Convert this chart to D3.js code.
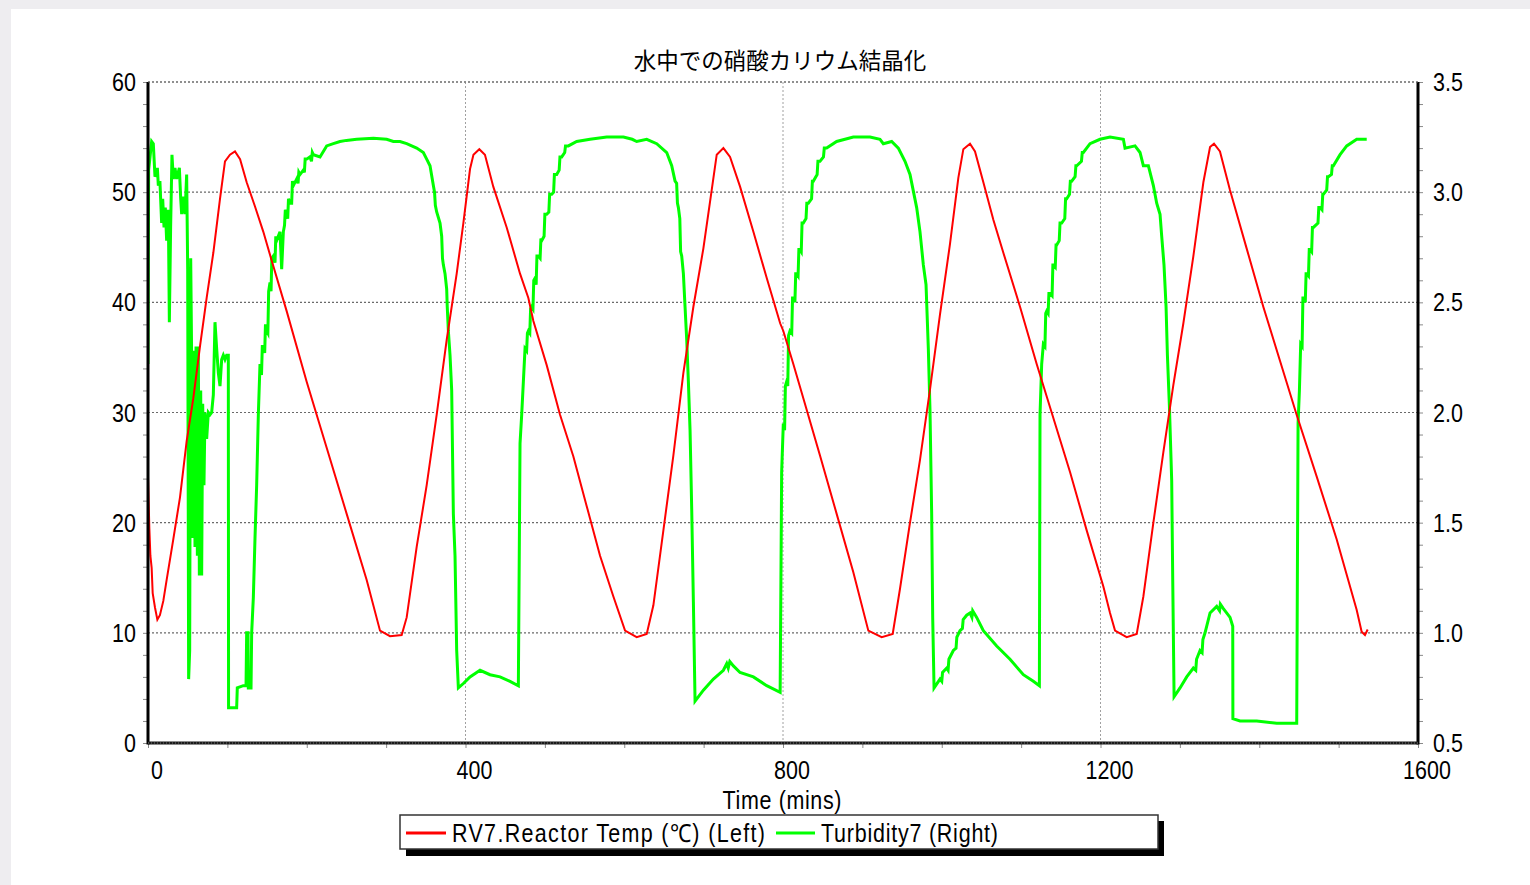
<!DOCTYPE html>
<html><head><meta charset="utf-8">
<script src="https://cdn.jsdelivr.net/npm/d3@7/dist/d3.min.js"></script>
<style>
html,body{margin:0;padding:0;background:#eeedf0;}
svg{display:block;}
</style></head>
<body>
<svg id="chart" width="1530" height="885"></svg>
<script>
// ---- data ----
const titleText = "水中での硝酸カリウム結晶化";
const xLabel = "Time (mins)";
const seriesNames = ["RV7.Reactor Temp (℃) (Left)", "Turbidity7 (Right)"];
const xTicks = [0, 400, 800, 1200, 1600];
const leftTicks = [0, 10, 20, 30, 40, 50, 60];
const rightTicks = [0.5, 1.0, 1.5, 2.0, 2.5, 3.0, 3.5];
const rightTickLabels = ["0.5", "1.0", "1.5", "2.0", "2.5", "3.0", "3.5"];

// [time (mins), reactor temp (°C)]
const reactorTemp = [[0,24.2],[1.7,19.5],[3,17],[4.6,15.9],[5.9,13.6],[8.8,12.3],[11.8,11.2],[15,11.6],[19.3,12.9],[23.5,14.8],[31.9,18.5],[40.3,22.3],[48.7,27.4],[57.1,31.3],[65.5,36.0],[73.9,40.4],[82.3,44.5],[90.7,49.4],[97,52.8],[103.3,53.4],[109.6,53.7],[116,53.0],[124.3,50.9],[134.8,48.7],[145.3,46.4],[155.8,43.8],[174.7,39.2],[199.9,32.8],[225.1,26.8],[250.3,20.8],[275.5,14.8],[292.3,10.2],[304.9,9.7],[319.6,9.8],[325.9,11.4],[338.5,17.8],[351.1,23.4],[363.7,29.8],[376.3,36.6],[388.9,42.6],[397.3,47.2],[405.7,52.1],[410,53.4],[417.4,53.9],[424.5,53.4],[435,50.5],[451.9,46.8],[468.7,42.6],[479.2,40.4],[485.5,38.3],[502.3,34.3],[519.1,29.8],[535.9,26.0],[552.7,21.5],[569.5,17.0],[586.3,13.3],[601,10.2],[615.7,9.6],[628.3,9.9],[636.7,12.5],[649.3,19.3],[661.9,26.1],[674.5,33.6],[687.1,39.6],[699.7,44.9],[710.2,50.2],[716.5,53.4],[724.9,54.0],[733.3,53.2],[745.9,50.5],[762.7,46.4],[779.5,42.2],[796.4,38.1],[800.4,37.4],[813,34.4],[825.6,31.3],[846.6,26.1],[867.6,20.8],[888.6,15.5],[907.5,10.2],[924.3,9.6],[938.2,9.9],[947.4,14.0],[960,20.0],[972.6,25.7],[985.2,32.1],[997.8,38.9],[1010.4,45.3],[1020.9,51.3],[1027.2,53.9],[1035.6,54.4],[1041.9,53.7],[1052.4,50.9],[1065,47.5],[1077.6,44.5],[1098.6,39.6],[1119.6,34.4],[1140.6,29.5],[1161.6,24.6],[1182.6,19.3],[1203.6,14.2],[1212,11.8],[1218.3,10.2],[1233,9.6],[1245.6,9.9],[1254,13.3],[1266.6,20.0],[1279.2,26.4],[1291.8,32.5],[1304.4,38.1],[1317,44.2],[1329.6,50.9],[1338,54.1],[1343,54.4],[1350.5,53.7],[1363.1,50.2],[1384.1,44.9],[1405.1,39.6],[1426.1,34.7],[1447.1,29.8],[1472.3,24.2],[1497.5,18.5],[1522.7,12.1],[1529,10.1],[1533.2,9.8],[1536.6,10.3]];

// [time (mins), turbidity]
const turbidity = [[0,2.22],[0.8,3.10],[4.6,3.23],[6.7,3.22],[8.8,3.07],[11.8,3.11],[13,3.03],[15,3.05],[17.2,2.86],[18.5,2.97],[20.2,2.84],[21.8,2.93],[23.5,2.78],[25.6,2.92],[26.9,2.41],[28.5,2.84],[30.2,3.17],[31.9,3.06],[34,3.11],[36.1,3.06],[39.5,3.11],[41.2,2.97],[42.4,2.90],[44.5,2.98],[46.6,2.90],[48.7,3.08],[50,2.65],[51.2,0.79],[52.5,0.92],[53.8,2.70],[55,2.25],[56.3,1.43],[57.9,2.28],[59.2,1.39],[60.5,2.30],[62.2,1.35],[63.4,2.30],[64.7,1.26],[66.4,2.10],[67.6,1.26],[68.9,2.04],[70.5,1.67],[71.8,2.00],[73.9,1.88],[76,2.00],[78.1,1.99],[80.2,2.00],[82.3,2.08],[84.4,2.41],[86.5,2.29],[88.6,2.18],[90.7,2.12],[92.8,2.24],[94.9,2.26],[97,2.24],[99.1,2.26],[101.2,2.26],[101.5,0.66],[111.7,0.66],[112.5,0.75],[120,0.76],[123.5,0.76],[124.3,1.0],[126,1.0],[126.4,0.75],[129.8,0.75],[130.6,1.0],[132.7,1.16],[134.8,1.43],[136.9,1.67],[139,1.99],[141.1,2.22],[143,2.17],[144,2.30],[145.3,2.30],[147,2.27],[148,2.40],[149.5,2.37],[151,2.36],[152,2.55],[153.7,2.59],[155,2.55],[156,2.70],[157.9,2.71],[160,2.68],[161,2.80],[162,2.78],[166.3,2.82],[168.4,2.65],[170.5,2.82],[172,2.85],[173,2.92],[174.7,2.90],[176,2.88],[177,2.97],[178.9,2.95],[181,2.95],[182,3.05],[183.1,3.03],[187.3,3.06],[189,3.04],[190,3.09],[191.5,3.08],[195.7,3.10],[197,3.09],[198,3.15],[199.9,3.15],[204,3.16],[206,3.14],[207,3.18],[208.3,3.17],[216.7,3.16],[225.1,3.21],[233.5,3.22],[241.9,3.23],[250,3.235],[262.9,3.24],[283.9,3.245],[300.7,3.24],[309.1,3.23],[317.5,3.23],[325.9,3.22],[338.5,3.20],[346.9,3.18],[351.1,3.15],[355.3,3.12],[359.5,3.03],[361,3.00],[362,2.94],[363.7,2.91],[367.9,2.86],[370,2.80],[371,2.70],[372.1,2.67],[374.2,2.63],[376.3,2.56],[377,2.48],[378.4,2.37],[380.5,2.26],[382.6,2.10],[384.7,1.54],[386.8,1.35],[388.9,0.92],[391,0.75],[397.3,0.77],[405.7,0.80],[418.3,0.83],[430.9,0.81],[443.5,0.80],[456.1,0.78],[466.6,0.76],[468.7,1.86],[470.8,1.99],[472.9,2.14],[475,2.29],[477,2.28],[478,2.36],[479.2,2.37],[481,2.36],[482,2.47],[483.4,2.48],[485,2.47],[486,2.60],[487.6,2.61],[489,2.58],[490,2.71],[491.8,2.71],[494,2.70],[495,2.79],[496,2.78],[499,2.80],[500,2.90],[502.3,2.90],[505,2.91],[506,2.99],[508.6,2.99],[511,3.00],[512,3.08],[514.9,3.08],[518,3.10],[519,3.16],[521.2,3.16],[525,3.18],[526,3.21],[529.6,3.21],[540.1,3.23],[556.9,3.24],[577.9,3.25],[599,3.25],[610,3.24],[615.7,3.23],[628.3,3.24],[640.9,3.22],[653.5,3.18],[659.8,3.12],[664,3.05],[666,3.04],[667,2.95],[668.2,2.93],[670,2.88],[671,2.73],[672.4,2.71],[674.5,2.63],[676.6,2.48],[678.7,2.33],[680.8,2.14],[682.9,1.92],[685,1.56],[687.1,1.14],[689.2,0.69],[699.7,0.74],[712.3,0.79],[724.9,0.83],[729.1,0.86],[731,0.84],[733,0.87],[737.5,0.85],[745.9,0.82],[762.7,0.80],[779.5,0.76],[796.4,0.73],[798.3,1.73],[800.4,1.95],[802,1.92],[803,2.12],[804.6,2.14],[806,2.12],[807,2.35],[808.8,2.37],[811,2.36],[812,2.52],[813,2.52],[815,2.50],[816,2.63],[817.2,2.63],[819,2.62],[820,2.74],[821.4,2.74],[823,2.73],[824,2.86],[825.6,2.86],[829,2.88],[830,2.95],[831.9,2.95],[836,2.97],[837,3.05],[838.2,3.05],[843,3.08],[844,3.14],[846.6,3.14],[851,3.16],[852,3.20],[855,3.20],[867.6,3.23],[888.6,3.25],[909.6,3.25],[922.2,3.24],[926.4,3.22],[936.9,3.23],[945.3,3.20],[953.7,3.14],[960,3.08],[968.4,2.93],[972.6,2.82],[976.8,2.67],[980.2,2.58],[983.1,2.29],[985.2,2.01],[987.3,1.54],[988.6,1.07],[990.3,0.75],[997.8,0.79],[1000,0.78],[1001,0.82],[1006.2,0.84],[1008,0.83],[1009,0.88],[1014.6,0.92],[1018,0.93],[1019,0.98],[1023,1.01],[1026,1.02],[1027,1.06],[1031.4,1.08],[1035.6,1.09],[1038,1.07],[1039,1.10],[1044,1.07],[1052.4,1.01],[1069.2,0.94],[1086,0.88],[1102.8,0.81],[1115.4,0.78],[1123,0.76],[1123.8,1.99],[1125.9,2.22],[1128,2.31],[1130,2.30],[1131,2.45],[1132.2,2.46],[1134,2.45],[1135,2.54],[1136.4,2.54],[1139,2.53],[1140,2.67],[1140.6,2.67],[1143,2.66],[1144,2.76],[1144.8,2.76],[1148,2.78],[1149,2.86],[1151.1,2.86],[1155,2.88],[1156,2.97],[1157.4,2.97],[1161,2.99],[1162,3.05],[1163.7,3.05],[1168,3.07],[1169,3.12],[1170,3.12],[1176,3.14],[1177,3.18],[1178.4,3.18],[1186.8,3.22],[1199.4,3.24],[1212,3.25],[1228.8,3.24],[1230.9,3.20],[1243.5,3.21],[1249.8,3.18],[1254,3.12],[1260.3,3.12],[1266.6,3.03],[1270.8,2.95],[1275,2.90],[1277.1,2.80],[1280,2.67],[1282.6,2.48],[1284.3,2.26],[1286.8,2.03],[1289.7,1.69],[1291,1.24],[1292.7,0.71],[1300.2,0.75],[1308.6,0.80],[1317,0.84],[1320,0.83],[1321,0.88],[1325.4,0.92],[1328,0.91],[1329,0.97],[1331.7,1.0],[1338,1.09],[1346.4,1.12],[1350,1.10],[1351,1.13],[1354.8,1.11],[1363.2,1.07],[1366.6,1.03],[1366.8,0.61],[1375.8,0.60],[1396.8,0.60],[1422,0.59],[1447.2,0.59],[1448.9,1.95],[1450.6,2.10],[1452.2,2.31],[1454,2.30],[1455,2.52],[1455.6,2.52],[1458,2.50],[1459,2.63],[1459.8,2.63],[1462,2.62],[1463,2.74],[1464,2.74],[1466,2.73],[1467,2.84],[1468.2,2.84],[1474,2.86],[1475,2.93],[1476.6,2.93],[1479,2.92],[1480,2.99],[1480.8,2.99],[1485,3.01],[1486,3.07],[1487.1,3.07],[1491,3.08],[1492,3.12],[1493.4,3.12],[1501.8,3.17],[1510.2,3.21],[1522.8,3.24],[1535.4,3.24]];

// ---- drawing ----
const svg = d3.select("#chart");
const W = 1530, H = 885;
const plot = {left:148, right:1418, top:82, bottom:743};
const latin = '"Liberation Sans",Arial,sans-serif';

svg.append("rect").attr("x",0).attr("y",0).attr("width",W).attr("height",H).attr("fill","#eeedf0");
svg.append("rect").attr("x",11).attr("y",9).attr("width",W-11).attr("height",H-9).attr("fill","#ffffff");

const x = d3.scaleLinear().domain([0,1600]).range([plot.left, plot.right]);
const yL = d3.scaleLinear().domain([0,60]).range([plot.bottom, plot.top]);
const yR = d3.scaleLinear().domain([0.5,3.5]).range([plot.bottom, plot.top]);

// gridlines
const grid = svg.append("g");
grid.selectAll("line.h").data(leftTicks.filter(d=>d>0)).enter().append("line")
  .attr("x1",plot.left).attr("x2",plot.right)
  .attr("y1",d=>yL(d)).attr("y2",d=>yL(d))
  .attr("stroke","#6a6a6a").attr("stroke-width",1.2).attr("stroke-dasharray","2,2");
grid.selectAll("line.v").data(xTicks.filter(d=>d>0 && d<1600)).enter().append("line")
  .attr("x1",d=>x(d)).attr("x2",d=>x(d))
  .attr("y1",plot.top).attr("y2",plot.bottom)
  .attr("stroke","#a0a0a0").attr("stroke-width",1).attr("stroke-dasharray","2,2");

// axes
const leftAxis = d3.axisLeft(yL).tickValues(d3.range(0,61,2)).tickSize(5).tickFormat("");
const gL = svg.append("g").attr("transform",`translate(${plot.left},0)`).call(leftAxis);
const rightAxis = d3.axisRight(yR).tickValues(d3.range(5,36,1).map(d=>d/10)).tickSize(5).tickFormat("");
const gR = svg.append("g").attr("transform",`translate(${plot.right},0)`).call(rightAxis);
const bottomAxis = d3.axisBottom(x).tickValues(d3.range(0,1601,100)).tickSize(5).tickFormat("");
const gB = svg.append("g").attr("transform",`translate(0,${plot.bottom})`).call(bottomAxis);
[gL,gR,gB].forEach(g=>{
  g.select(".domain").remove();
  g.selectAll(".tick line").attr("stroke","#8a8a8a").attr("stroke-width",1);
});

// series
const clip = svg.append("clipPath").attr("id","pc").append("rect")
  .attr("x",plot.left).attr("y",plot.top-2).attr("width",plot.right-plot.left).attr("height",plot.bottom-plot.top+2);
const lines = svg.append("g").attr("clip-path","url(#pc)");
lines.append("path").datum(turbidity)
  .attr("d", d3.line().x(d=>x(d[0])).y(d=>yR(d[1])))
  .attr("fill","none").attr("stroke","#00ff00").attr("stroke-width",3);
lines.append("path").datum(reactorTemp)
  .attr("d", d3.line().x(d=>x(d[0])).y(d=>yL(d[1])))
  .attr("fill","none").attr("stroke","#ff0000").attr("stroke-width",2);

// axis frame lines
svg.append("line").attr("x1",plot.left).attr("x2",plot.left).attr("y1",plot.top).attr("y2",plot.bottom+1.5)
  .attr("stroke","#000").attr("stroke-width",3);
svg.append("line").attr("x1",plot.right).attr("x2",plot.right).attr("y1",plot.top).attr("y2",plot.bottom+1.5)
  .attr("stroke","#000").attr("stroke-width",3);
svg.append("line").attr("x1",plot.left).attr("x2",plot.right).attr("y1",plot.bottom).attr("y2",plot.bottom)
  .attr("stroke","#1a1a1a").attr("stroke-width",3);
svg.append("line").attr("x1",plot.left).attr("x2",plot.right).attr("y1",plot.bottom).attr("y2",plot.bottom)
  .attr("stroke","#777").attr("stroke-width",1).attr("stroke-dasharray","1,2");
svg.append("line").attr("x1",plot.left).attr("x2",plot.right).attr("y1",plot.top).attr("y2",plot.top)
  .attr("stroke","#6a6a6a").attr("stroke-width",1.2).attr("stroke-dasharray","2,2");

// narrow text helper (condensed glyphs via horizontal scale)
const SX = 0.86;
function narrowText(g, px, py, str, anchor, width){
  const t = g.append("text")
    .attr("transform",`translate(${px},${py}) scale(${SX},1)`)
    .attr("text-anchor",anchor)
    .style("font-family",latin).style("font-size","25px").attr("fill","#000")
    .text(str);
  if (width) t.attr("textLength", width/SX).attr("lengthAdjust","spacing");
  return t;
}
const tl = svg.append("g");
leftTicks.forEach(d=>narrowText(tl, plot.left-12, yL(d)+9, String(d), "end"));
rightTicks.forEach((d,i)=>narrowText(tl, plot.right+15, yR(d)+9, rightTickLabels[i], "start"));
xTicks.forEach(d=>narrowText(tl, x(d)+9, 779, String(d), "middle"));
narrowText(tl, 782, 809, xLabel, "middle", 119);

// title
svg.append("text").attr("x",780).attr("y",69).attr("text-anchor","middle")
  .style("font-family",'"Noto Sans CJK JP","Noto Sans CJK SC",sans-serif').style("font-size","22.5px")
  .attr("fill","#000").text(titleText);

// legend
const lg = svg.append("g");
lg.append("rect").attr("x",406).attr("y",821).attr("width",758).attr("height",35).attr("fill","#000");
lg.append("rect").attr("x",400).attr("y",815).attr("width",758).attr("height",34).attr("fill","#fff")
  .attr("stroke","#333").attr("stroke-width",1.5);
const legendItems = [
  {name: seriesNames[0], color:"#ff0000", x0:406, x1:446, tx:452, tw:313},
  {name: seriesNames[1], color:"#00ff00", x0:776, x1:815, tx:821, tw:177}
];
legendItems.forEach(it=>{
  lg.append("line").attr("x1",it.x0).attr("x2",it.x1).attr("y1",833).attr("y2",833)
    .attr("stroke",it.color).attr("stroke-width",3);
  narrowText(lg, it.tx, 842, it.name, "start", it.tw);
});
</script>
</body></html>
